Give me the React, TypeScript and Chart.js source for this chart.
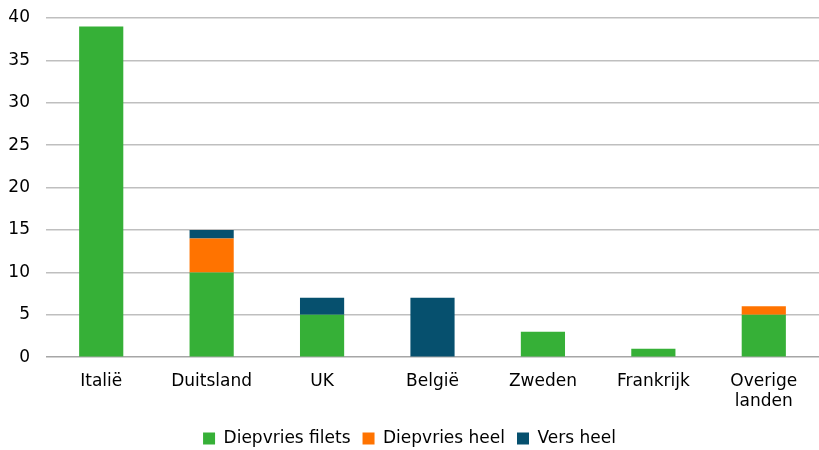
import React, { useEffect, useRef } from "react";
import { Chart, registerables } from "chart.js";

Chart.register(...registerables);

const categories: (string | string[])[] = ["Italië", "Duitsland", "UK", "België", "Zweden", "Frankrijk", ["Overige", "landen"]];
const diepvriesFilets = [39, 10, 5, 0, 3, 1, 5];
const diepvriesHeel = [0, 4, 0, 0, 0, 0, 1];
const versHeel = [0, 1, 2, 7, 0, 0, 0];
const yTicks = { min: 0, max: 40, step: 5 };

export default function App() {
  const ref = useRef<HTMLCanvasElement>(null);
  useEffect(() => {
    document.body.style.margin = "0";
    const font = { family: "'DejaVu Sans', Verdana, sans-serif", size: 17 };
    const chart = new Chart(ref.current!, {
      type: "bar",
      data: {
        labels: categories,
        datasets: [
          { label: "Diepvries filets", data: diepvriesFilets, backgroundColor: "#36B037" },
          { label: "Diepvries heel", data: diepvriesHeel, backgroundColor: "#FF7300" },
          { label: "Vers heel", data: versHeel, backgroundColor: "#06506E" },
        ],
      },
      options: {
        animation: false,
        responsive: false,
        layout: { padding: { top: 0, right: 0, left: 0, bottom: -7 } },
        datasets: { bar: { categoryPercentage: 1, barPercentage: 0.4 } },
        scales: {
          x: {
            stacked: true,
            grid: { display: false },
            border: { display: false },
            ticks: { color: "#000", font, maxRotation: 0, padding: 6 },
          },
          y: {
            stacked: true,
            min: yTicks.min,
            max: yTicks.max,
            afterFit: (scale: any) => {
              scale.width = 46;
              scale.paddingTop = 18;
            },
            ticks: { stepSize: yTicks.step, color: "#000", font, padding: 16 },
            grid: {
              color: (ctx: any) => (ctx.tick && ctx.tick.value === 0 ? "#A6A6A6" : "#BFBFBF"),
              lineWidth: 1.5,
              drawTicks: false,
            },
            border: { display: false },
          },
        },
        plugins: {
          tooltip: { enabled: false },
          legend: {
            position: "bottom",
            labels: { color: "#000", font, boxWidth: 12, boxHeight: 12, padding: 12 },
          },
        },
      },
    });
    return () => chart.destroy();
  }, []);
  return <canvas ref={ref} width={819} height={450} style={{ display: "block" }} />;
}
